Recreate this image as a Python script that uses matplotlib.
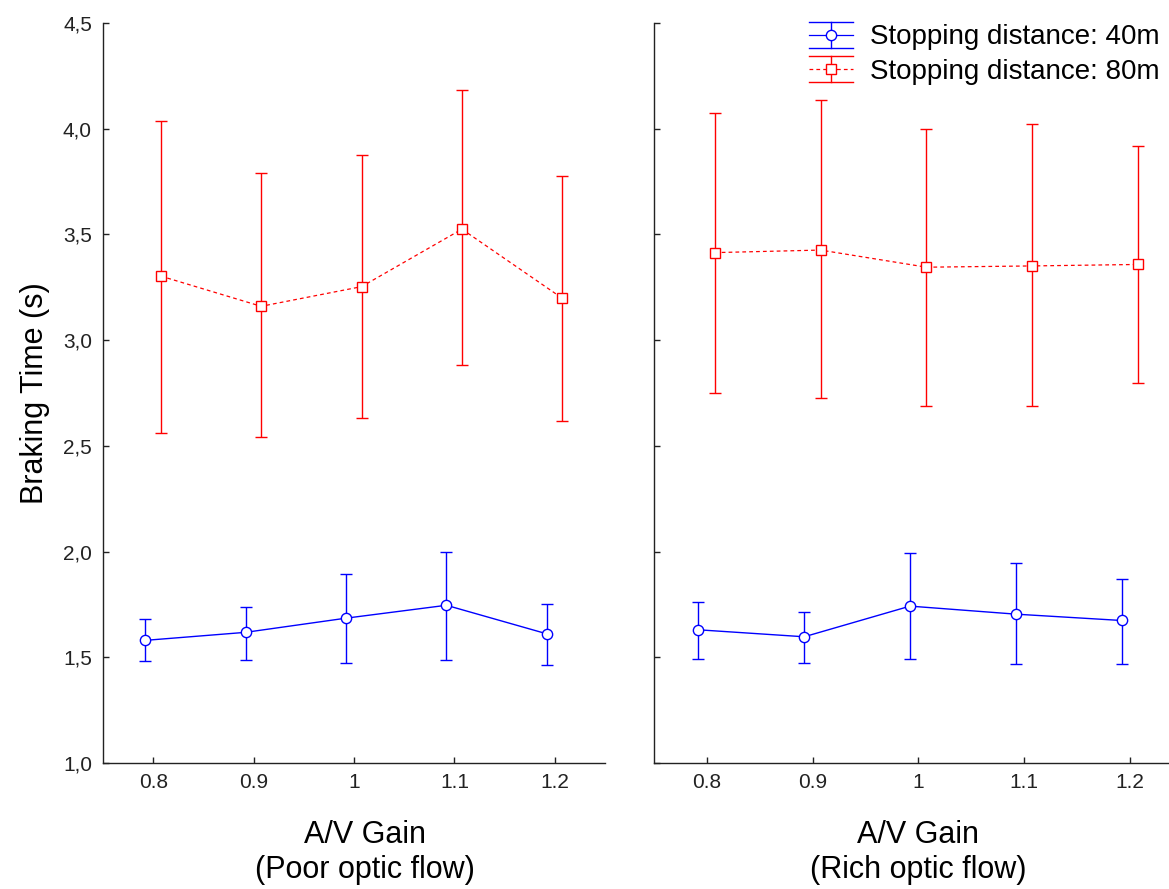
import matplotlib
matplotlib.use('Agg')
import matplotlib.pyplot as plt
from matplotlib.legend_handler import HandlerBase
from matplotlib.lines import Line2D
import numpy as np

# A/V gain categories
gain_labels = ['0.8', '0.9', '1', '1.1', '1.2']

# Poor optic flow panel
poor_40_mean = [1.580, 1.618, 1.685, 1.746, 1.611]
poor_40_low = [1.481, 1.488, 1.475, 1.488, 1.462]
poor_40_high = [1.683, 1.740, 1.895, 2.000, 1.754]
poor_80_mean = [3.303, 3.160, 3.253, 3.525, 3.198]
poor_80_low = [2.562, 2.542, 2.630, 2.884, 2.618]
poor_80_high = [4.035, 3.790, 3.876, 4.181, 3.777]

# Rich optic flow panel
rich_40_mean = [1.630, 1.597, 1.742, 1.704, 1.674]
rich_40_low = [1.494, 1.475, 1.494, 1.467, 1.467]
rich_40_high = [1.760, 1.716, 1.992, 1.945, 1.871]
rich_80_mean = [3.414, 3.426, 3.345, 3.351, 3.358]
rich_80_low = [2.750, 2.725, 2.688, 2.688, 2.798]
rich_80_high = [4.073, 4.134, 3.999, 4.024, 3.919]

series_names = ['Stopping distance: 40m', 'Stopping distance: 80m']

BLUE = '#0000FF'
RED = '#FF0000'
TXT = '#222222'

plt.rcParams['font.family'] = ['Liberation Sans', 'DejaVu Sans']

W, H = 1169, 889
fig = plt.figure(figsize=(W / 100, H / 100), dpi=100)

top, bottom = 23, 763
ax_l = fig.add_axes([103 / W, 1 - bottom / H, (605 - 103) / W, (bottom - top) / H])
ax_r = fig.add_axes([654 / W, 1 - bottom / H, (1183 - 654) / W, (bottom - top) / H])


class ErrHandle:
    def __init__(self, color, ls, marker, ms):
        self.color, self.ls, self.marker, self.ms = color, ls, marker, ms


class HandlerErrBox(HandlerBase):
    # statistica-style legend key: caps across the whole key, bar and marker in the middle
    def create_artists(self, legend, orig, xdescent, ydescent, width, height, fontsize, trans):
        x0, x1 = -xdescent, -xdescent + width
        xm = (x0 + x1) / 2
        yc = -ydescent + height / 2
        dy = 9.2  # points
        c = orig.color
        arts = [
            Line2D([x0, x1], [yc + dy, yc + dy], color=c, lw=1.0),
            Line2D([x0, x1], [yc - dy, yc - dy], color=c, lw=1.0),
            Line2D([xm, xm], [yc - dy, yc + dy], color=c, lw=1.0),
            Line2D([x0, x1], [yc, yc], color=c, lw=0.9, ls=orig.ls),
            Line2D([xm], [yc], marker=orig.marker, ms=orig.ms, mfc='white', mec=c, mew=1.0, ls='none'),
        ]
        for a in arts:
            a.set_transform(trans)
        return arts


def draw_panel(ax, m40, lo40, hi40, m80, lo80, hi80, xlabel, show_y):
    x = np.arange(len(gain_labels))
    m40, lo40, hi40 = map(np.array, (m40, lo40, hi40))
    m80, lo80, hi80 = map(np.array, (m80, lo80, hi80))
    ax.errorbar(x - 0.08, m40, yerr=[m40 - lo40, hi40 - m40], color=BLUE,
                lw=1.0, elinewidth=1.0, capsize=4.5, capthick=1.0,
                marker='o', ms=7.4, mfc='white', mec=BLUE, mew=1.0)
    ax.errorbar(x + 0.075, m80, yerr=[m80 - lo80, hi80 - m80], color=RED,
                lw=0.9, ls=(0, (3, 2.5)), elinewidth=1.0, capsize=4.5, capthick=1.0,
                marker='s', ms=7.8, mfc='white', mec=RED, mew=1.0)
    ax.set_xlim(-0.5, 4.5)
    ax.set_ylim(1.0, 4.5)
    ax.set_xticks(x)
    ax.set_xticklabels(gain_labels)
    yt = np.arange(1.0, 4.51, 0.5)
    ax.set_yticks(yt)
    if show_y:
        ax.set_yticklabels([f'{v:.1f}'.replace('.', ',') for v in yt])
        ax.set_ylabel('Braking Time (s)', fontsize=22, labelpad=9)
    else:
        ax.set_yticklabels([])
    ax.set_xlabel(xlabel, fontsize=22, linespacing=1.2)
    for s in ('top', 'right'):
        ax.spines[s].set_visible(False)
    for s in ('left', 'bottom'):
        ax.spines[s].set_linewidth(1.0)
        ax.spines[s].set_color(TXT)
    ax.tick_params(direction='in', length=4, width=1.0, labelsize=15, colors=TXT)
    ax.tick_params(axis='x', pad=7)
    ax.tick_params(axis='y', pad=8)


draw_panel(ax_l, poor_40_mean, poor_40_low, poor_40_high,
           poor_80_mean, poor_80_low, poor_80_high,
           'A/V Gain\n(Poor optic flow)', True)
draw_panel(ax_r, rich_40_mean, rich_40_low, rich_40_high,
           rich_80_mean, rich_80_low, rich_80_high,
           'A/V Gain\n(Rich optic flow)', False)
# the left label sits a little right of the axes centre in the original
ax_l.xaxis.set_label_coords(0.522, -0.077, transform=ax_l.transAxes)
ax_l.xaxis.label.set_va('top')
ax_r.xaxis.set_label_coords(0.5, -0.077, transform=ax_r.transAxes)
ax_r.xaxis.label.set_va('top')

keys = [ErrHandle(BLUE, '-', 'o', 7.4), ErrHandle(RED, (0, (3, 2.5)), 's', 7.8)]
fig.legend(handles=keys, labels=series_names, handler_map={ErrHandle: HandlerErrBox()},
           loc='upper right', bbox_to_anchor=(1.005, 0.99),
           frameon=False, fontsize=20, handlelength=1.6, handleheight=0.8,
           handletextpad=0.6, labelspacing=0.28, borderaxespad=0.15)

fig.savefig('out.png', dpi=100)
